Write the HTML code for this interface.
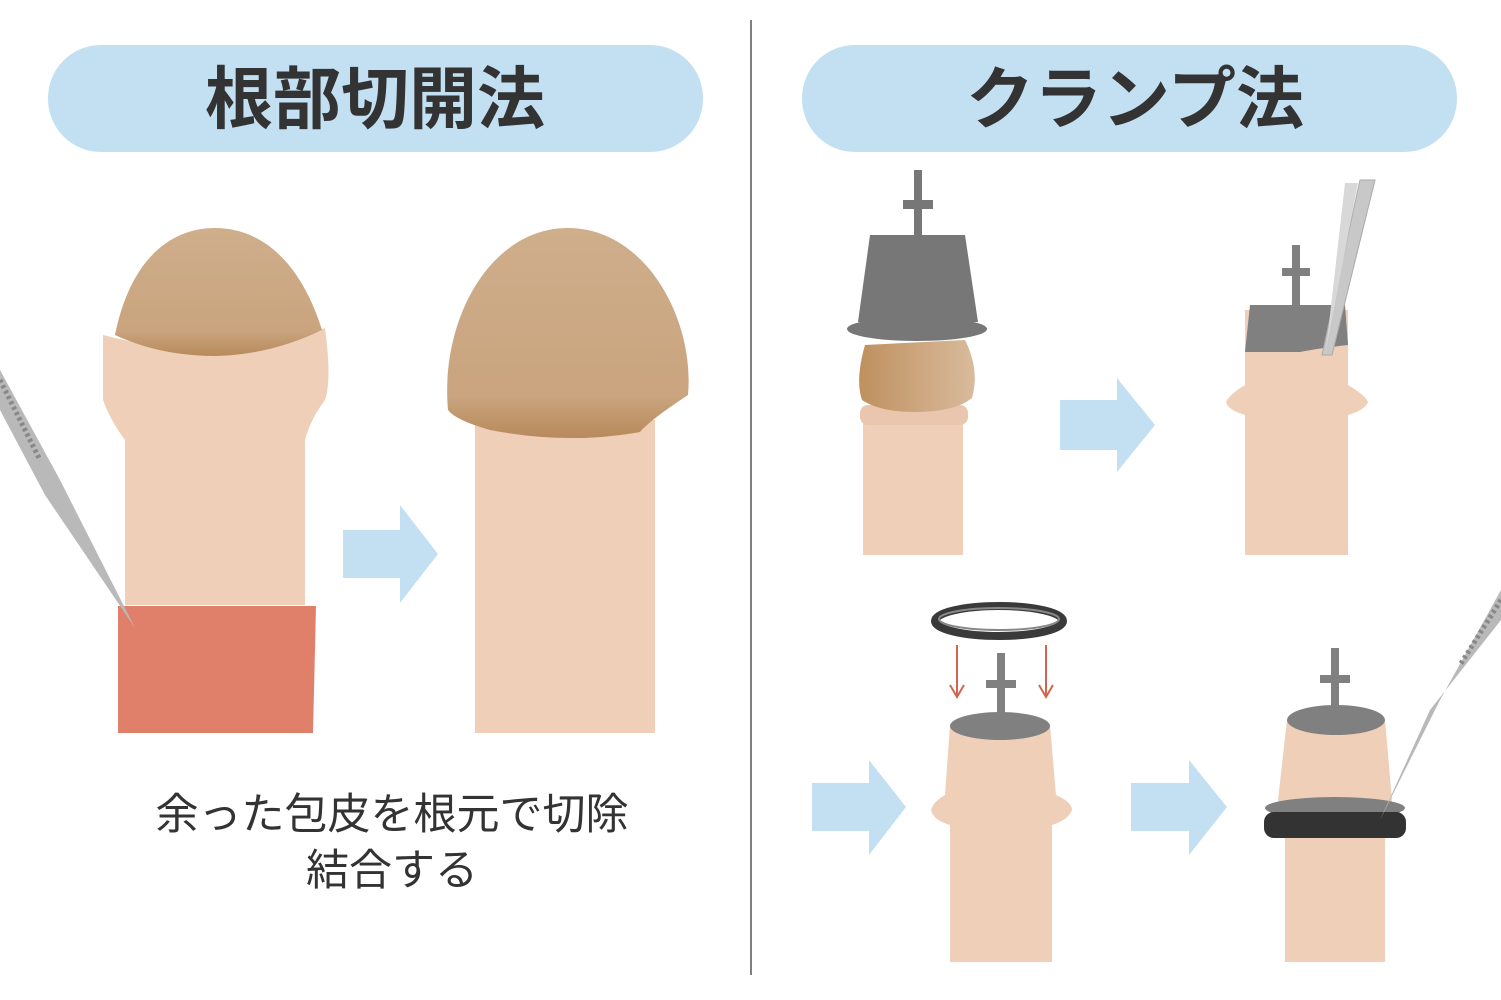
<!DOCTYPE html>
<html><head><meta charset="utf-8"><style>
html,body{margin:0;padding:0;background:#fff;}
svg{display:block;}
text{font-family:"Liberation Sans","Noto Sans CJK JP",sans-serif;}
</style></head><body>
<svg width="1501" height="1000" viewBox="0 0 1501 1000" xmlns="http://www.w3.org/2000/svg">
<defs>
<linearGradient id="gl" x1="0" y1="0" x2="0" y2="1"><stop offset="0" stop-color="#cfae8c"/><stop offset="0.8" stop-color="#c9a47e"/><stop offset="1" stop-color="#b88a5c"/></linearGradient>
<linearGradient id="gl2" x1="0" y1="0" x2="1" y2="0"><stop offset="0" stop-color="#bf905f"/><stop offset="1" stop-color="#d9bb9c"/></linearGradient>
</defs>
<rect width="1501" height="1000" fill="#fff"/>
<line x1="751" y1="20" x2="751" y2="975" stroke="#555" stroke-width="1.5"/>
<rect x="48" y="45" width="655" height="107" rx="53" fill="#c3e0f3"/>
<rect x="802" y="45" width="655" height="107" rx="53" fill="#c3e0f3"/>
<text x="375" y="123" font-size="68" font-weight="bold" text-anchor="middle" fill="#333">根部切開法</text>
<text x="1135" y="123" font-size="68" font-weight="bold" text-anchor="middle" fill="#333">クランプ法</text>

<!-- left illustration 1 -->
<path d="M103,335 Q215,365 325,328 Q332,380 325,400 Q310,420 305,440 L305,605 L125,605 L125,440 Q110,420 103,400 Z" fill="#efcfb8"/>
<path d="M115,335 C130,260 170,228 215,228 C260,228 300,260 322,330 Q270,355 215,356 Q160,356 115,335 Z" fill="url(#gl)"/>
<path d="M118,606 L316,606 L313,733 L118,733 Z" fill="#e1806a"/>
<path d="M0,370 L60,480 L135,628 L45,495 L0,410 Z" fill="#b9b9b9"/>
<path d="M0,380 L40,460" stroke="#888" stroke-width="5" stroke-dasharray="3,3"/>
<path d="M343,530 H400 V505 L438,554 L400,603 V578 H343 Z" fill="#c3e0f3"/>
<!-- illustration 2 -->
<path d="M475,420 L655,420 L655,733 L475,733 Z" fill="#efcfb8"/>
<path d="M448,410 C440,320 490,228 568,228 C646,228 695,320 688,395 Q650,420 640,432 Q568,445 490,430 Q455,420 448,410 Z" fill="url(#gl)"/>
<text x="392" y="829" font-size="43" text-anchor="middle" fill="#333">余った包皮を根元で切除</text>
<text x="392" y="885" font-size="43" text-anchor="middle" fill="#333">結合する</text>

<!-- right top 1 -->
<rect x="863" y="415" width="100" height="140" fill="#efcfb8"/>
<rect x="860" y="405" width="108" height="20" rx="8" fill="#e9c6ad"/>
<path d="M865,345 Q855,380 862,400 Q880,412 915,412 Q955,412 972,398 Q980,370 965,340 Z" fill="url(#gl2)"/>
<rect x="914" y="170" width="8" height="70" fill="#777"/>
<rect x="903" y="200" width="30" height="9" fill="#777"/>
<path d="M870,235 L965,235 L978,322 L858,322 Z" fill="#777"/>
<ellipse cx="917" cy="329" rx="70" ry="12" fill="#777"/>
<path d="M1060,400 H1117 V378 L1155,425 L1117,472 V450 H1060 Z" fill="#c3e0f3"/>

<!-- right top 2 -->
<path d="M1245,310 L1348,310 L1348,385 Q1365,395 1368,402 Q1365,410 1348,415 L1348,555 L1245,555 L1245,415 Q1228,410 1226,402 Q1230,394 1245,385 Z" fill="#efcfb8"/>
<path d="M1250,305 L1345,305 L1348,345 Q1320,348 1300,352 L1245,352 Z" fill="#808080"/>
<rect x="1292" y="245" width="8" height="62" fill="#808080"/>
<rect x="1282" y="268" width="28" height="8" fill="#808080"/>
<path d="M1360,180 L1375,180 L1332,355 L1322,355 Z" fill="#c8c8c8" stroke="#aaa" stroke-width="1"/>
<path d="M1345,183 L1358,183 L1326,350 Z" fill="#d8d8d8"/>

<!-- right bottom 1 -->
<ellipse cx="999" cy="621" rx="64" ry="15" fill="none" stroke="#3a3a3a" stroke-width="8"/>
<ellipse cx="999" cy="619" rx="60" ry="11" fill="none" stroke="#888" stroke-width="2"/>
<line x1="957" y1="645" x2="957" y2="695" stroke="#d2654f" stroke-width="2"/>
<path d="M950,685 L957,697 L964,685" fill="none" stroke="#d2654f" stroke-width="2"/>
<line x1="1046" y1="645" x2="1046" y2="695" stroke="#d2654f" stroke-width="2"/>
<path d="M1039,685 L1046,697 L1053,685" fill="none" stroke="#d2654f" stroke-width="2"/>
<path d="M950,725 L1050,725 L1056,795 Q1072,802 1072,810 Q1068,820 1052,825 L1052,962 L950,962 L950,825 Q933,820 931,810 Q933,802 945,795 Z" fill="#efcfb8"/>
<ellipse cx="1000" cy="726" rx="50" ry="14" fill="#808080"/>
<rect x="997" y="653" width="8" height="65" fill="#808080"/>
<rect x="986" y="680" width="30" height="8" fill="#808080"/>
<path d="M812,783 H869 V760 L906,807 L869,855 V831 H812 Z" fill="#c3e0f3"/>
<path d="M1131,783 H1189 V760 L1227,807 L1189,855 V831 H1131 Z" fill="#c3e0f3"/>

<!-- right bottom 2 -->
<path d="M1287,720 L1385,720 L1392,800 L1385,840 L1385,962 L1285,962 L1285,840 L1278,800 Z" fill="#efcfb8"/>
<ellipse cx="1336" cy="720" rx="49" ry="15" fill="#808080"/>
<rect x="1331" y="648" width="8" height="65" fill="#808080"/>
<rect x="1320" y="675" width="30" height="8" fill="#808080"/>
<ellipse cx="1335" cy="808" rx="70" ry="11" fill="#808080"/>
<rect x="1264" y="812" width="142" height="26" rx="10" fill="#333"/>
<path d="M1501,590 L1440,700 L1380,820 L1430,710 L1501,620 Z" fill="#b9b9b9"/>
<path d="M1501,600 L1460,665" stroke="#888" stroke-width="5" stroke-dasharray="3,3"/>
</svg>
</body></html>
